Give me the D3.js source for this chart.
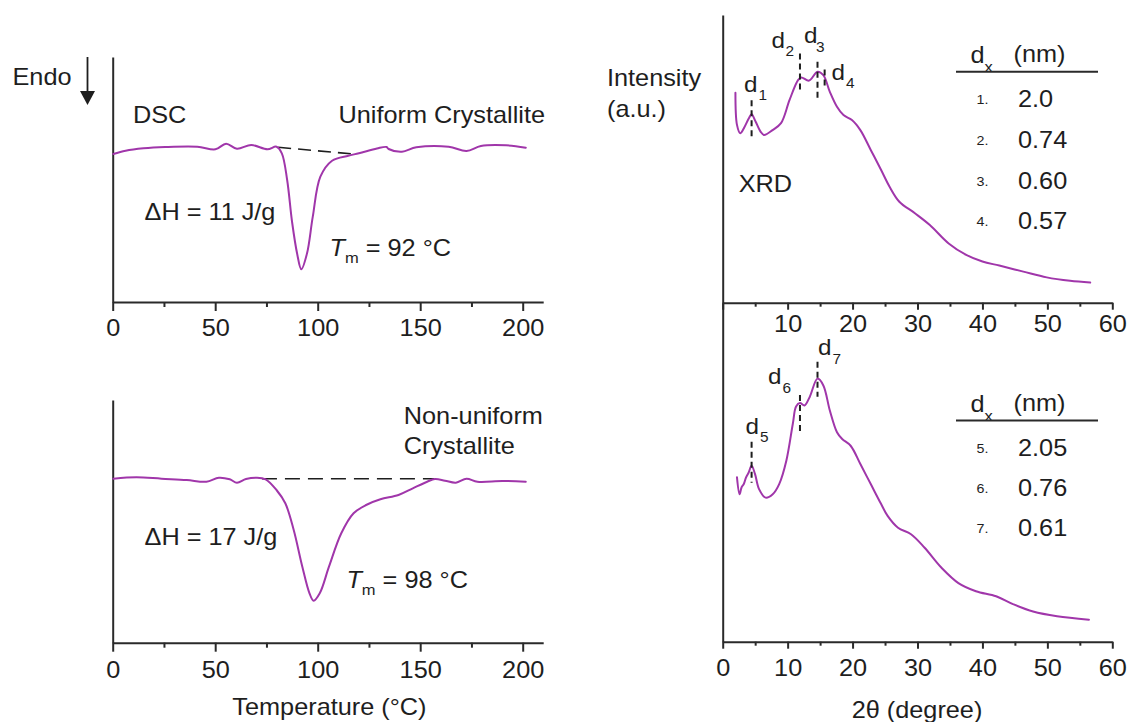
<!DOCTYPE html>
<html>
<head>
<meta charset="utf-8">
<script src="https://cdn.jsdelivr.net/npm/d3@7"></script>
<style>
  html, body { margin: 0; padding: 0; background: #fff; }
  svg { display: block; font-family: "Liberation Sans", Arial, sans-serif; }
</style>
</head>
<body>
<svg id="fig" width="1128" height="722"></svg>
<script>
// ---- DSC: uniform crystallite (temperature in °C, heat flow in a.u.) ----
const dscTemp1 = [0.3, 6.3, 15, 25.6, 41.3, 50.1, 55.3, 60.6, 67.6, 75.5, 79.9, 82.5, 85.1, 87.5, 90.0,
  92.0, 94.8, 97.6, 101.3, 107.0, 114.9, 120.1, 128.9, 133.6, 134.6, 141.1, 148.1, 163.9, 172.6, 179.6, 191.9, 201.5];
const dscFlow1 = [14.8, 15.13, 15.37, 15.5, 15.53, 15.27, 15.83, 15.33, 15.7, 15.27, 15.53, 14.87, 12.2, 8.0, 4.8,
  3.27, 4.87, 8.53, 12.53, 14.13, 14.63, 14.87, 15.35, 15.5, 15.3, 15.03, 15.47, 15.53, 15.1, 15.6, 15.67, 15.43];
const dscBase1Temp = [80.7, 117.5];
const dscBase1Flow = [15.47, 14.8];

// ---- DSC: non-uniform crystallite ----
const dscTemp2 = [0.3, 11.6, 23.8, 36.1, 45.7, 51.8, 57.1, 60.6, 65, 70.2, 74.6, 79.9, 84.2, 88.3, 92.5,
  96.0, 98.0, 101.0, 105.5, 111.5, 117.5, 123.6, 130.6, 139.4, 146.4, 153.4, 157.2, 162.1, 167.4, 172.6, 177.9, 190.1, 201.5];
const dscFlow2 = [16.4, 16.54, 16.4, 16.27, 16.1, 16.5, 16.34, 16.0, 16.37, 16.5, 16.34, 15.27, 13.94, 11.27, 7.6,
  4.94, 4.2, 4.94, 7.6, 10.94, 12.94, 13.77, 14.34, 14.77, 15.44, 16.1, 16.37, 16.2, 16.0, 16.4, 16.1, 16.17, 16.1];
const dscBase2Temp = [72.8, 156.9];
const dscBase2Flow = [16.4, 16.4];

const enthalpy = ["11", "17"];     // J/g
const meltTemp = [92, 98];         // °C
const dscTicks = [0, 50, 100, 150, 200];
const dscMinorTicks = [25, 75, 125, 175];

// ---- XRD: uniform crystallite (2θ in degrees, intensity in a.u.) ----
const xrdAngle1 = [1.96, 2.2, 2.7, 3.25, 4.03, 4.45, 5.08, 5.85, 6.37, 7.68, 8.98, 10.3, 11.6, 12.1, 13.3,
  14.6, 15.5, 16.5, 17.6, 18.6, 19.9, 21.2, 22.8, 24.4, 25.7, 27.2, 29.6, 31.9, 34.8, 37.5, 40, 42.6, 46.3, 49.9, 53.5, 56.6];
const xrdInt1 = [73.0, 61.8, 58.9, 60.6, 64.1, 65.5, 62.9, 59.4, 58.3, 60.0, 62.4, 70.5, 77.4, 78.3, 77.2,
  80.3, 79.1, 73.3, 68.1, 65.2, 63.5, 60.0, 53.1, 46.1, 40.3, 35.1, 31.1, 27.0, 20.6, 16.6, 14.3, 12.9, 10.8, 8.8, 7.6, 7.0];
const peakAngle1 = [4.45, 11.9, 14.6, 15.7];
const dSpacing1 = ["2.0", "0.74", "0.60", "0.57"];

// ---- XRD: non-uniform crystallite ----
const xrdAngle2 = [2.2, 2.6, 2.9, 3.25, 3.6, 4.0, 4.45, 4.97, 5.6, 6.6, 7.7, 8.7, 9.8, 10.8, 11.3,
  11.9, 12.6, 13.4, 14.6, 15.5, 16.5, 17.6, 18.4, 19.7, 21.2, 22.8, 24.4, 25.4, 27, 29.0, 31.1, 33.7, 36.3, 39, 42.1, 44.7, 47.8, 51.5, 56.4];
const xrdInt2 = [48.5, 43.5, 45.5, 46.5, 48.5, 49.9, 51.9, 49.5, 45.0, 42.5, 43.5, 46.5, 53.4, 64.3, 69.4,
  70.4, 69.7, 72.2, 77.6, 75.6, 68.2, 61.8, 59.8, 57.8, 52.4, 46.5, 40.6, 37.1, 33.6, 31.7, 27.7, 21.8, 17.3, 14.9, 13.4, 11.1, 8.9, 7.5, 6.5];
const peakAngle2 = [4.45, 11.9, 14.6];
const dSpacing2 = ["2.05", "0.76", "0.61"];

const xrdTicks = [0, 10, 20, 30, 40, 50, 60];
const xrdMinorTicks = [5, 15, 25, 35, 45, 55];

// ---- styling ----
const CURVE = "#a036aa";
const INK = "#1e1e1e";
const AXIS = "#2a2a2a";
const FS = 23;        // main font size
const SX = 1.1;       // horizontal text stretch

const svg = d3.select("#fig");

function txt(g, x, y, str, opt = {}) {
  const t = g.append("text")
    .attr("transform", `translate(${x},${y}) scale(${SX},1)`)
    .attr("font-size", opt.size || FS)
    .attr("fill", INK)
    .attr("text-anchor", opt.anchor || "start");
  if (str !== null) t.text(str);
  return t;
}

// ---- scales ----
const xDsc = d3.scaleLinear().domain([0, 210]).range([112.7, 543.2]);
const yDsc1 = d3.scaleLinear().domain([0, 24.5]).range([302, 57]);
const yDsc2 = d3.scaleLinear().domain([0, 24.27]).range([642.7, 400]);
const xXrd = d3.scaleLinear().domain([0, 60]).range([722.7, 1112.3]);
const yXrd1 = d3.scaleLinear().domain([0, 100]).range([302.7, 15]);
const yXrd2 = d3.scaleLinear().domain([0, 100]).range([641.7, 302.7]);

// ---- axes ----
function xAxis(scale, yPos, ticks, minor, major, minorLen, labelY, showZero) {
  const g = svg.append("g").attr("transform", `translate(0,${yPos})`);
  g.call(d3.axisBottom(scale).tickValues(ticks).tickSize(major).tickSizeOuter(0)
    .tickFormat(d => (d === 0 && !showZero) ? "" : d));
  g.select(".domain").attr("stroke", AXIS).attr("stroke-width", 2);
  g.selectAll(".tick line").attr("stroke", AXIS).attr("stroke-width", 2);
  g.selectAll(".tick text")
    .attr("font-size", FS).attr("fill", INK)
    .attr("font-family", "Liberation Sans, Arial, sans-serif")
    .attr("y", labelY).attr("dy", 0)
    .attr("transform", `scale(${SX},1)`);
  const gm = svg.append("g").attr("transform", `translate(0,${yPos})`);
  gm.call(d3.axisBottom(scale).tickValues(minor).tickSize(minorLen).tickSizeOuter(0).tickFormat(""));
  gm.select(".domain").remove();
  gm.selectAll(".tick line").attr("stroke", AXIS).attr("stroke-width", 2);
}
function yAxis(scale, xPos) {
  const g = svg.append("g").attr("transform", `translate(${xPos},0)`);
  g.call(d3.axisLeft(scale).tickValues([]).tickSizeOuter(0));
  g.select(".domain").attr("stroke", AXIS).attr("stroke-width", 2);
}

yAxis(yDsc1, 112.7);
yAxis(yDsc2, 112.7);
yAxis(yXrd1, 722.7);
yAxis(yXrd2, 722.7);
xAxis(xDsc, 302, dscTicks, dscMinorTicks, 9, 5, 34, true);
xAxis(xDsc, 642.7, dscTicks, dscMinorTicks, 9, 5, 35, true);
xAxis(xXrd, 302.7, xrdTicks, xrdMinorTicks, 7, 4, 29.5, false);
xAxis(xXrd, 641.7, xrdTicks, xrdMinorTicks, 7, 4, 34.5, true);

// ---- curves ----
function curve(xs, ys, sx, sy) {
  const line = d3.line().x(i => sx(xs[i])).y(i => sy(ys[i])).curve(d3.curveCatmullRom.alpha(0.5));
  svg.append("path").attr("d", line(d3.range(xs.length)))
    .attr("fill", "none").attr("stroke", CURVE).attr("stroke-width", 2)
    .attr("stroke-linejoin", "round").attr("stroke-linecap", "round");
}
function dashed(xs, ys, sx, sy, dash) {
  svg.append("path")
    .attr("d", d3.line().x(i => sx(xs[i])).y(i => sy(ys[i]))(d3.range(xs.length)))
    .attr("fill", "none").attr("stroke", INK).attr("stroke-width", 1.6)
    .attr("stroke-dasharray", dash);
}

dashed(dscBase1Temp, dscBase1Flow, xDsc, yDsc1, "13 7");
dashed(dscBase2Temp, dscBase2Flow, xDsc, yDsc2, "15 8");
curve(dscTemp1, dscFlow1, xDsc, yDsc1);
curve(dscTemp2, dscFlow2, xDsc, yDsc2);
curve(xrdAngle1, xrdInt1, xXrd, yXrd1);
curve(xrdAngle2, xrdInt2, xXrd, yXrd2);

// ---- XRD peak markers ----
function interp(xs, ys, x) {
  const i = Math.max(1, d3.bisectLeft(xs, x));
  const t = (x - xs[i - 1]) / (xs[i] - xs[i - 1]);
  return ys[i - 1] + t * (ys[i] - ys[i - 1]);
}
function peaks(angles, xs, ys, sy, ext, labels, first) {
  angles.forEach((a, k) => {
    const px = xXrd(a);
    const py = sy(interp(xs, ys, a));
    svg.append("line")
      .attr("x1", px).attr("x2", px)
      .attr("y1", py - ext[k][0]).attr("y2", py + ext[k][1])
      .attr("stroke", INK).attr("stroke-width", 2).attr("stroke-dasharray", "6 4");
    const L = labels[k];
    txt(svg, L[0], L[1], "d", { size: 22 });
    txt(svg, L[2], L[3], String(first + k), { size: 14 });
  });
}
peaks(peakAngle1, xrdAngle1, xrdInt1, yXrd1,
  [[14, 22], [25, 15], [10, 26], [9, 8]],
  [[744, 91.7, 758.5, 99.5], [771.5, 47.7, 785.5, 56], [804, 43.3, 816, 51.7], [831.5, 80, 846, 87.5]], 1);
peaks(peakAngle2, xrdAngle2, xrdInt2, yXrd2,
  [[24, 17], [8, 32], [17, 18]],
  [[745.5, 434, 760, 442], [768, 384, 782.5, 393], [818, 355, 832.5, 363.5]], 5);

// ---- d-spacing tables ----
function table(headY, lineY, rowY0, rowStep, values, first) {
  txt(svg, 970.5, headY, "d", { size: FS });
  txt(svg, 984.5, headY + 8.5, "x", { size: 15 });
  txt(svg, 1013.5, headY - 1, "(nm)", { size: FS });
  svg.append("line").attr("x1", 956).attr("x2", 1098).attr("y1", lineY).attr("y2", lineY)
    .attr("stroke", AXIS).attr("stroke-width", 2);
  values.forEach((v, i) => {
    const y = rowY0 + i * rowStep;
    txt(svg, 976.5, y - 3, (first + i) + ".", { size: 13 });
    txt(svg, 1018, y, v, { size: FS });
  });
}
table(63.3, 71.7, 107.3, 40.6, dSpacing1, 1);
table(412, 420.5, 455.9, 40.2, dSpacing2, 5);

// ---- DSC annotations ----
svg.append("line").attr("x1", 87.5).attr("x2", 87.5).attr("y1", 57).attr("y2", 93)
  .attr("stroke", INK).attr("stroke-width", 1.8);
svg.append("path").attr("d", "M80,91 L95,91 L87.5,105 Z").attr("fill", INK);
txt(svg, 12.5, 85, "Endo");
txt(svg, 133, 122.5, "DSC");
txt(svg, 545, 122.5, "Uniform Crystallite", { anchor: "end" });
txt(svg, 403.8, 424, "Non-uniform");
txt(svg, 403.8, 454, "Crystallite");
txt(svg, 144.5, 220, `\u0394H = ${enthalpy[0]} J/g`);
txt(svg, 144.5, 544.5, `\u0394H = ${enthalpy[1]} J/g`);

function tmLabel(x, y, val) {
  const t = txt(svg, x, y, null);
  t.append("tspan").attr("font-style", "italic").text("T");
  t.append("tspan").attr("font-size", 15).attr("dy", 7).text("m");
  t.append("tspan").attr("dy", -7).text(` = ${val} \u00B0C`);
}
tmLabel(329.5, 256, meltTemp[0]);
tmLabel(346.4, 588, meltTemp[1]);

// ---- XRD annotations ----
txt(svg, 607, 86, "Intensity");
txt(svg, 607, 116.5, "(a.u.)");
txt(svg, 738.7, 192, "XRD");

// ---- axis titles ----
txt(svg, 329.4, 714.5, "Temperature (\u00B0C)", { anchor: "middle" });
txt(svg, 917, 717.5, "2\u03B8 (degree)", { anchor: "middle" });
</script>
</body>
</html>
